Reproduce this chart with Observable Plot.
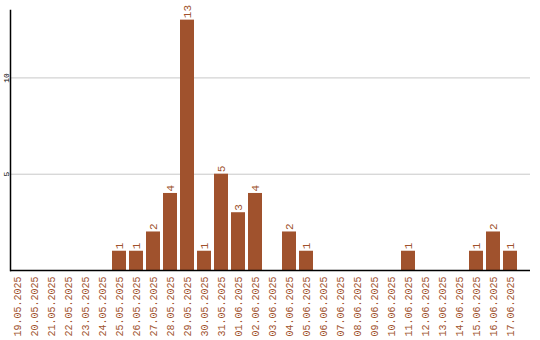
<!DOCTYPE html>
<html><head><meta charset="utf-8">
<script src="https://cdn.jsdelivr.net/npm/d3@7"></script>
<script src="https://cdn.jsdelivr.net/npm/@observablehq/plot@0.6"></script>
<style>body{margin:0;background:#fff}</style>
</head><body><div id="chart"></div>
<script>
const dates = ["19.05.2025","20.05.2025","21.05.2025","22.05.2025","23.05.2025","24.05.2025","25.05.2025","26.05.2025","27.05.2025","28.05.2025","29.05.2025","30.05.2025","31.05.2025","01.06.2025","02.06.2025","03.06.2025","04.06.2025","05.06.2025","06.06.2025","07.06.2025","08.06.2025","09.06.2025","10.06.2025","11.06.2025","12.06.2025","13.06.2025","14.06.2025","15.06.2025","16.06.2025","17.06.2025"];
const counts = [0,0,0,0,0,0,1,1,2,4,13,1,5,3,4,0,2,1,0,0,0,0,0,1,0,0,0,1,2,1];
const yTicks = [5, 10];
const data = dates.map((d, i) => ({date: d, count: counts[i]}));
const color = "#a0522d";
const font = "Liberation Mono";
const chart = Plot.plot({
  width: 540, height: 340,
  marginLeft: 10, marginRight: 10, marginTop: 10, marginBottom: 70,
  style: {fontFamily: font, background: "#fff"},
  x: {domain: dates, range: [10, 517], paddingInner: 0.18, paddingOuter: 0, axis: null},
  y: {domain: [0, 13.5], axis: null},
  marks: [
    Plot.gridY(yTicks, {stroke: "#c8c8c8", strokeOpacity: 1}),
    Plot.barY(data, {x: "date", y: "count", fill: color}),
    Plot.text(data.filter(d => d.count > 0), {x: "date", y: "count", text: d => String(d.count), rotate: -90, textAnchor: "start", lineAnchor: "middle", dy: -2, fill: color, fontSize: 11, fontFamily: font}),
    Plot.axisX({tickSize: 0, tickRotate: -90, tickPadding: 6, fill: color, fontSize: 10, fontFamily: font, label: null}),
    Plot.axisY({ticks: yTicks, tickSize: 0, tickRotate: -90, tickPadding: 2, fontSize: 8, fill: "#000", fontFamily: font, label: null}),
    Plot.ruleY([0], {stroke: "#000", strokeWidth: 1.5}),
    Plot.frame({anchor: "left", stroke: "#000", strokeWidth: 1.5})
  ]
});
document.getElementById("chart").appendChild(chart);
</script>
</body></html>
